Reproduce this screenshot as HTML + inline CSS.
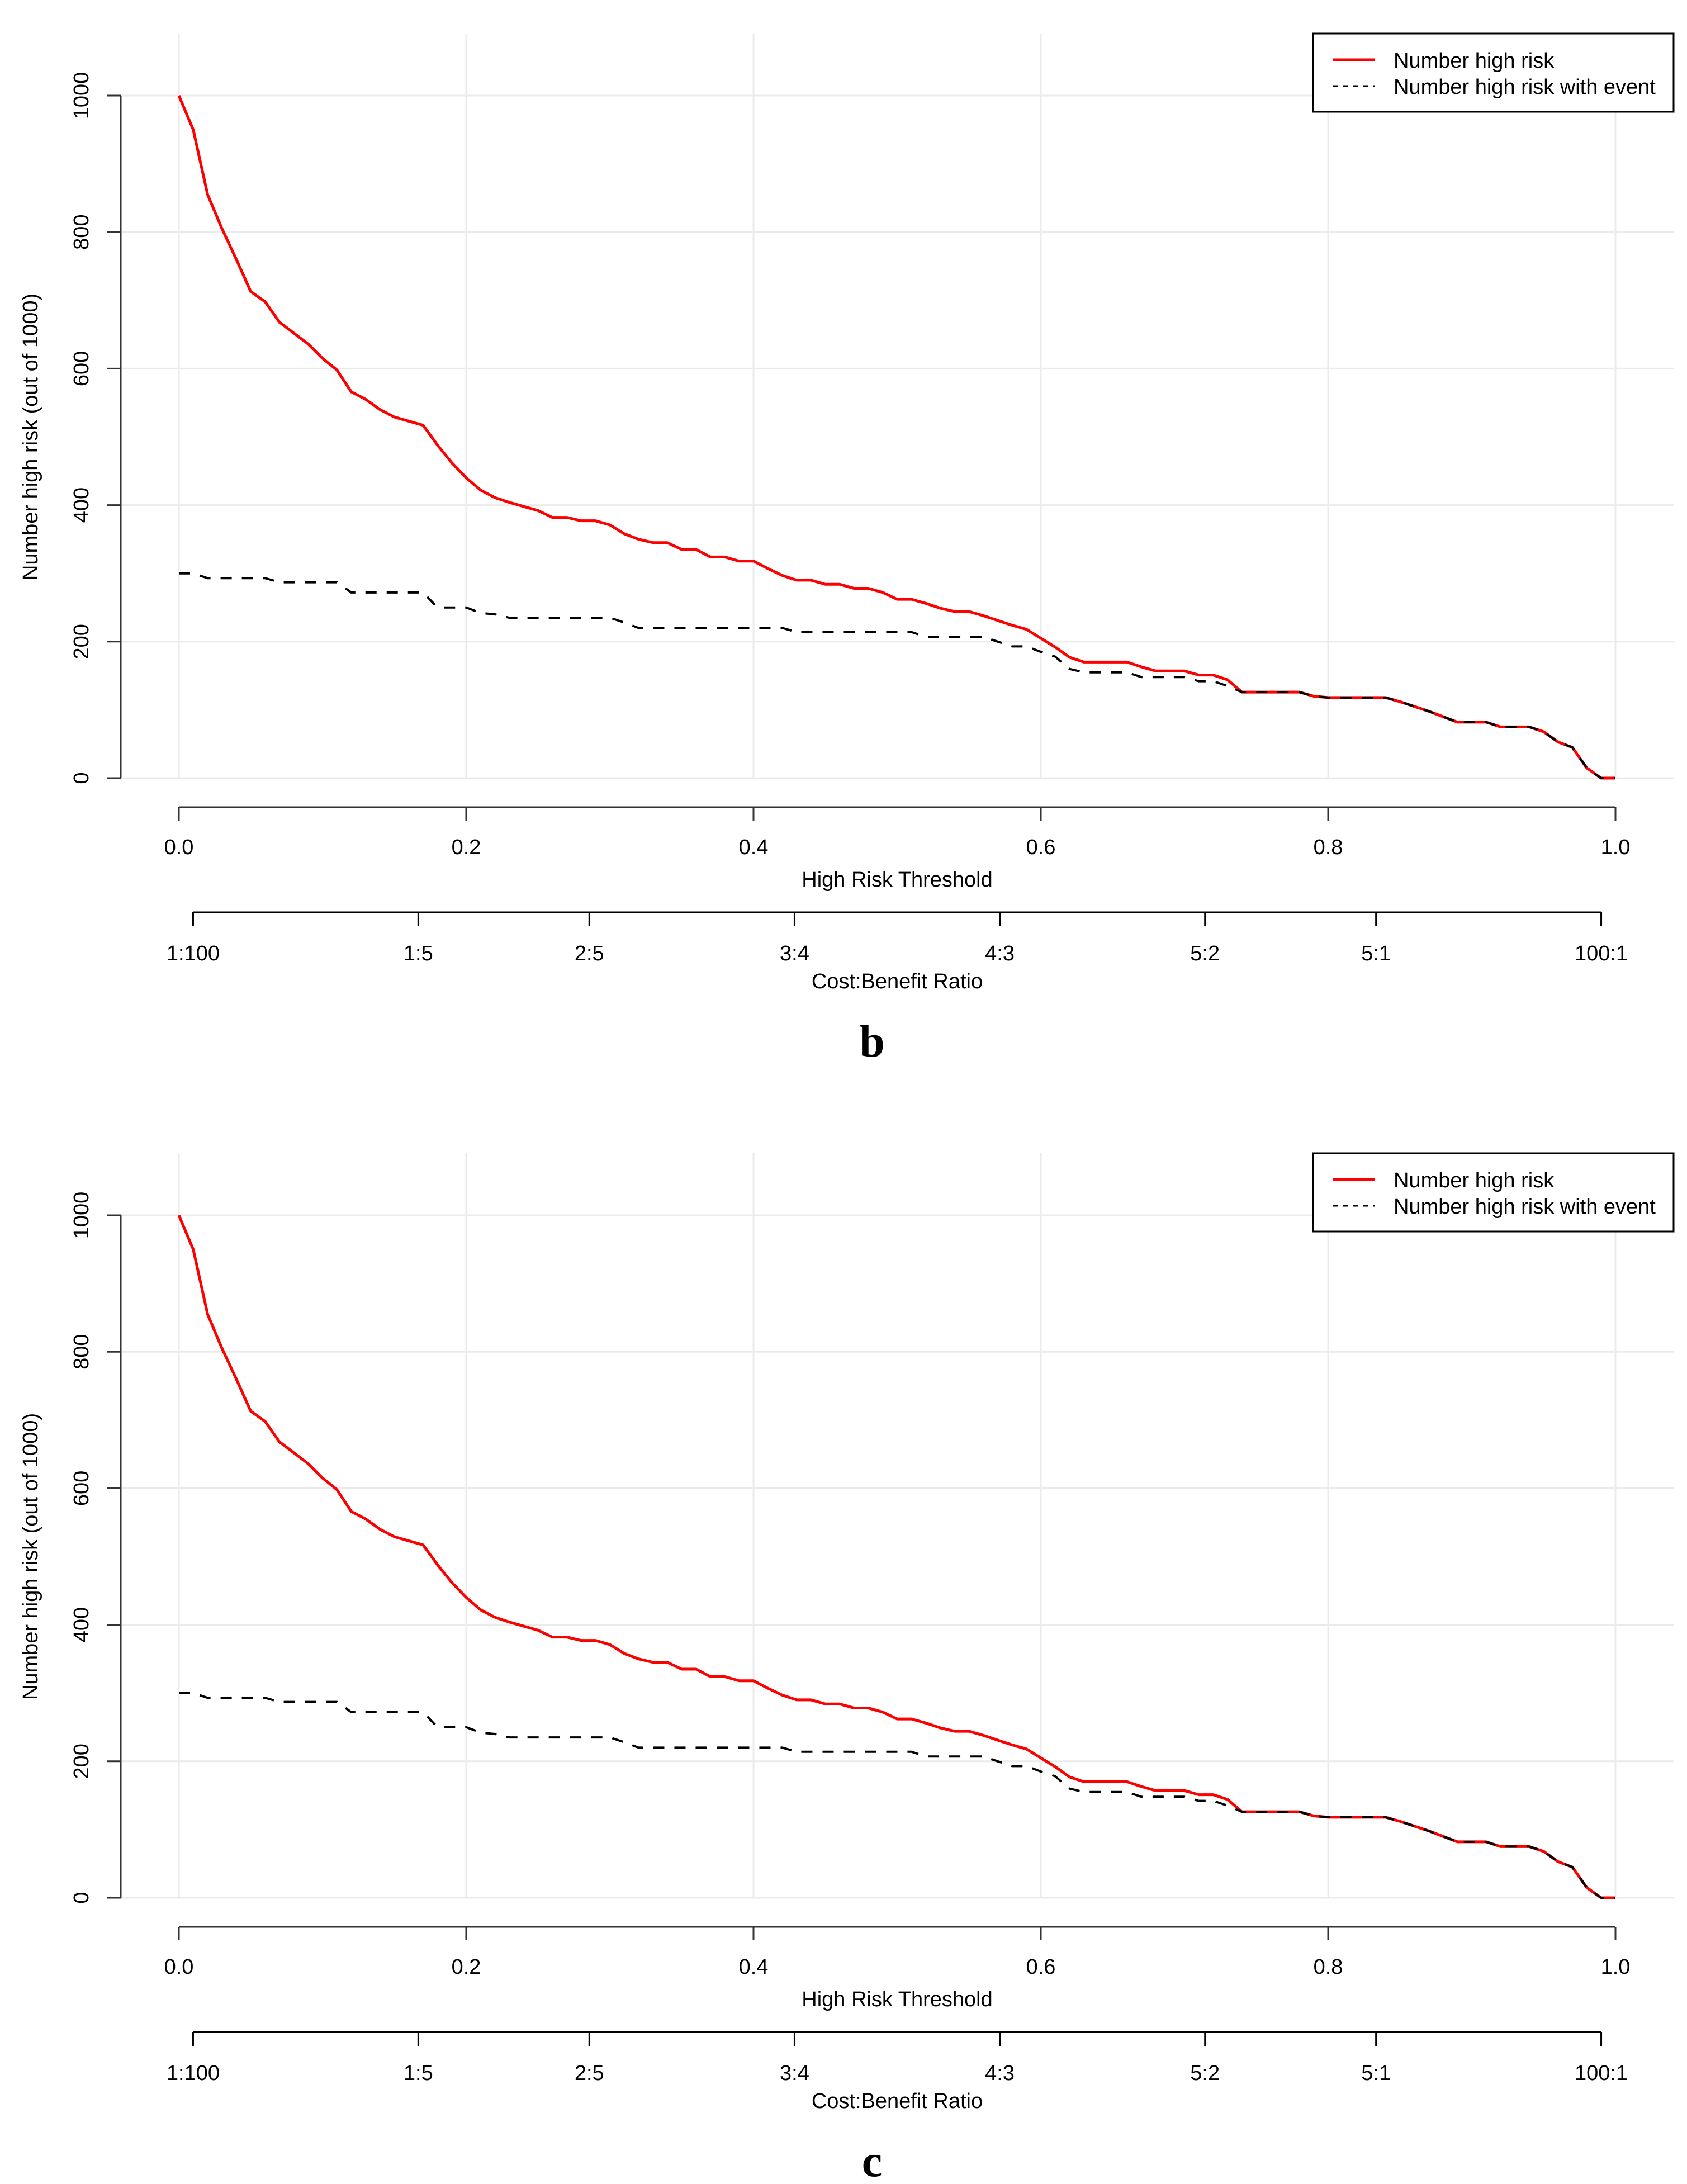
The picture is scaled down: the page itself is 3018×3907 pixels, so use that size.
<!DOCTYPE html>
<html><head><meta charset="utf-8">
<style>
html,body{margin:0;padding:0;background:#fff;}
svg{display:block;}
text{font-family:"Liberation Sans",Arial,sans-serif;fill:#000;}
</style></head>
<body>
<svg id="fig" width="3018" height="3907" viewBox="0 0 3018 3907" xmlns="http://www.w3.org/2000/svg"></svg>
<script>
const thresholds = [0,0.01,0.02,0.03,0.04,0.05,0.06,0.07,0.08,0.09,0.10,0.11,0.12,0.13,0.14,0.15,0.16,0.17,0.18,0.19,0.20,0.21,0.22,0.23,0.24,0.25,0.26,0.27,0.28,0.29,0.30,0.31,0.32,0.33,0.34,0.35,0.36,0.37,0.38,0.39,0.40,0.41,0.42,0.43,0.44,0.45,0.46,0.47,0.48,0.49,0.50,0.51,0.52,0.53,0.54,0.55,0.56,0.57,0.58,0.59,0.60,0.61,0.62,0.63,0.64,0.65,0.66,0.67,0.68,0.69,0.70,0.71,0.72,0.73,0.74,0.75,0.76,0.77,0.78,0.79,0.80,0.81,0.82,0.83,0.84,0.85,0.86,0.87,0.88,0.89,0.90,0.91,0.92,0.93,0.94,0.95,0.96,0.97,0.98,0.99,1.00];
const highRisk = [1000,950,855,805,760,713,698,668,652,636,615,598,566,555,540,529,523,517,488,462,440,422,411,404,398,392,382,382,377,377,371,358,350,345,345,335,335,324,324,318,318,307,297,290,290,284,284,278,278,272,262,262,256,249,244,244,238,231,224,218,205,192,177,170,170,170,170,163,157,157,157,151,151,144,126,126,126,126,126,120,118,118,118,118,118,112,105,98,90,82,82,82,75,75,75,68,53,45,15,0,0];
const highRiskEvent = [300,300,293,293,293,293,293,287,287,287,287,287,272,272,272,272,272,272,250,250,250,242,240,235,235,235,235,235,235,235,235,228,220,220,220,220,220,220,220,220,220,220,220,214,214,214,214,214,214,214,214,214,207,207,207,207,207,200,193,193,185,178,160,155,155,155,155,148,148,148,148,142,142,135,126,126,126,126,126,120,118,118,118,118,118,112,105,98,90,82,82,82,75,75,75,68,53,45,15,0,0];
const xTicks = [0,0.2,0.4,0.6,0.8,1.0];
const xTickLabels = ["0.0","0.2","0.4","0.6","0.8","1.0"];
const yTicks = [0,200,400,600,800,1000];
const cbLabels = ["1:100","1:5","2:5","3:4","4:3","5:2","5:1","100:1"];
const cbCost = [1,1,2,3,4,5,5,100];
const cbBenefit = [100,5,5,4,3,2,1,1];
const panels = ["b","c"];

const NS = "http://www.w3.org/2000/svg";
const svg = document.getElementById('fig');
function mk(tag, attrs, parent){
  const e = document.createElementNS(NS, tag);
  for (const k in attrs) e.setAttribute(k, attrs[k]);
  (parent||svg).appendChild(e);
  return e;
}
const X0 = 320, X1 = 2890;
function xs(t){ return X0 + t*(X1-X0); }

panels.forEach((label, pi) => {
  const off = pi*2003;
  const Y0 = 1392+off, Y1 = 171+off;
  const ys = v => Y0 + (v/1000)*(Y1-Y0);
  const g = mk('g', {});
  
  

  // grid
  xTicks.forEach(t => {
    const l = mk('line', {x1:xs(t), x2:xs(t), y1:60+off, y2:Y0, stroke:'#ebebeb', 'stroke-width':3}, g);
    
    
  });
  yTicks.forEach(v => {
    const l = mk('line', {x1:216, x2:2994, y1:ys(v), y2:ys(v), stroke:'#ebebeb', 'stroke-width':3}, g);
    
    
  });

  // y axis
  const ya = mk('line', {x1:216, x2:216, y1:ys(0), y2:ys(1000), stroke:'#333', 'stroke-width':3}, g);
  
  
  yTicks.forEach(v => {
    mk('line', {x1:191, x2:216, y1:ys(v), y2:ys(v), stroke:'#333', 'stroke-width':3}, g);
    const tx = mk('text', {x:0, y:0, 'font-size':38, 'text-anchor':'middle', transform:`translate(158,${ys(v)}) rotate(-90)`}, g);
    tx.textContent = v;
    
    
  });
  const yt = mk('text', {x:0, y:0, 'font-size':38, 'text-anchor':'middle', transform:`translate(67,${(Y0+Y1)/2}) rotate(-90)`}, g);
  yt.textContent = 'Number high risk (out of 1000)';
  
  

  // x axis
  const xa = mk('line', {x1:xs(0), x2:xs(1), y1:1444+off, y2:1444+off, stroke:'#333', 'stroke-width':3}, g);
  
  
  xTicks.forEach((t,i) => {
    mk('line', {x1:xs(t), x2:xs(t), y1:1444+off, y2:1468+off, stroke:'#333', 'stroke-width':3}, g);
    const tx = mk('text', {x:xs(t), y:1528+off, 'font-size':38, 'text-anchor':'middle'}, g);
    tx.textContent = xTickLabels[i];
    
    
  });
  const xt = mk('text', {x:1605, y:1586+off, 'font-size':38, 'text-anchor':'middle'}, g);
  xt.textContent = 'High Risk Threshold';
  
  

  // cost:benefit axis
  const cbT = cbCost.map((c,i) => c/(c+cbBenefit[i]));
  const ca = mk('line', {x1:xs(cbT[0]), x2:xs(cbT[cbT.length-1]), y1:1632+off, y2:1632+off, stroke:'#000', 'stroke-width':3}, g);
  
  
  cbT.forEach((t,i) => {
    mk('line', {x1:xs(t), x2:xs(t), y1:1632+off, y2:1657+off, stroke:'#000', 'stroke-width':3}, g);
    const tx = mk('text', {x:xs(t), y:1718+off, 'font-size':38, 'text-anchor':'middle'}, g);
    tx.textContent = cbLabels[i];
    
    
  });
  const ct = mk('text', {x:1605, y:1768+off, 'font-size':38, 'text-anchor':'middle'}, g);
  ct.textContent = 'Cost:Benefit Ratio';
  
  

  // series
  const pts1 = thresholds.map((t,i) => xs(t)+','+ys(highRisk[i])).join(' ');
  const pts2 = thresholds.map((t,i) => xs(t)+','+ys(highRiskEvent[i])).join(' ');
  const s1 = mk('polyline', {points:pts1, fill:'none', stroke:'#ff0000', 'stroke-width':5, 'stroke-linejoin':'round'}, g);
  
  
  const s2 = mk('polyline', {points:pts2, fill:'none', stroke:'#000', 'stroke-width':4, 'stroke-dasharray':'20 18'}, g);
  
  

  // legend
  const lg = mk('g', {}, g);
  
  
  mk('rect', {x:2349, y:60+off, width:645, height:140, fill:'#fff', stroke:'#000', 'stroke-width':3}, lg);
  mk('line', {x1:2384, x2:2459, y1:107+off, y2:107+off, stroke:'#ff0000', 'stroke-width':5}, lg);
  mk('line', {x1:2384, x2:2459, y1:154+off, y2:154+off, stroke:'#000', 'stroke-width':3, 'stroke-dasharray':'9 9'}, lg);
  const l1 = mk('text', {x:2493, y:121+off, 'font-size':38}, lg);
  l1.textContent = 'Number high risk';
  
  
  const l2 = mk('text', {x:2493, y:168+off, 'font-size':38}, lg);
  l2.textContent = 'Number high risk with event';
  
  

  // panel label
  const pl = mk('text', {x:1560, y:1890+off, 'font-size':82, 'font-weight':'bold', 'text-anchor':'middle', style:'font-family:"Liberation Serif",serif'}, g);
  pl.textContent = label;
  
  
});
</script>
</body></html>
